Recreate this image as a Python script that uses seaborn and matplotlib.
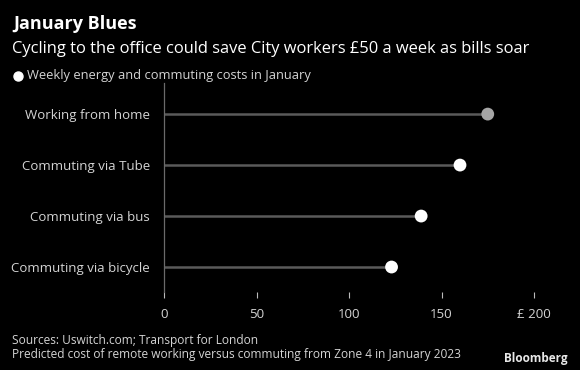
import matplotlib
matplotlib.use("Agg")
import matplotlib.pyplot as plt
import pandas as pd
import seaborn as sns
from matplotlib.lines import Line2D

categories = ["Working from home", "Commuting via Tube", "Commuting via bus", "Commuting via bicycle"]
costs = [175, 160, 139, 123]
dot_colors = ["#a6a6a6", "#ffffff", "#ffffff", "#ffffff"]
x_ticks = [0, 50, 100, 150, 200]
x_tick_labels = ["0", "50", "100", "150", "£ 200"]


def main():
    sns.set_style("dark")
    plt.rcParams["font.family"] = ["Open Sans", "DejaVu Sans"]

    df = pd.DataFrame({"category": categories, "cost": costs})
    df["pos"] = range(len(df))

    fig = plt.figure(figsize=(5.8, 3.7), dpi=100, facecolor="black")
    ax = fig.add_axes([164 / 580, 1 - 292 / 370, (534 - 164) / 580, 209 / 370])
    ax.set_facecolor("black")

    # stems
    ax.hlines(df["pos"], 0, df["cost"], color="#5a5a5a", linewidth=1.8, zorder=1)
    sns.scatterplot(data=df, x="cost", y="pos", hue="category",
                    palette=dict(zip(categories, dot_colors)), s=85,
                    edgecolor="none", legend=False, ax=ax, zorder=3)

    ax.set_xlim(0, 200)
    ax.set_ylim(3.49, -0.61)
    ax.set_yticks(df["pos"])
    ax.set_yticklabels(categories)
    ax.set_xticks(x_ticks)
    ax.set_xticklabels(x_tick_labels)
    ax.set_xlabel("")
    ax.set_ylabel("")
    ax.grid(False)
    for side in ["top", "right", "bottom"]:
        ax.spines[side].set_visible(False)
    ax.spines["left"].set_color("#6a6a6a")
    ax.spines["left"].set_linewidth(0.9)
    ax.tick_params(axis="y", length=0, pad=10, labelsize=9.5, labelcolor="#d4d4d4")
    ax.tick_params(axis="x", length=4.5, width=0.8, color="#bbbbbb", direction="out",
                   pad=7, labelsize=9.5, labelcolor="#d4d4d4", bottom=True)

    fig.text(13 / 580, 1 - 29 / 370, "January Blues", color="white", fontsize=13,
             fontweight="bold", va="baseline")
    fig.text(12 / 580, 1 - 53 / 370,
             "Cycling to the office could save City workers £50 a week as bills soar",
             color="white", fontsize=11.9, va="baseline")
    # legend key
    fig.add_artist(Line2D([18 / 580], [1 - 76 / 370], marker="o", markersize=6.5,
                          color="white", linestyle="none", transform=fig.transFigure))
    fig.text(27 / 580, 1 - 76 / 370, "Weekly energy and commuting costs in January",
             color="#d4d4d4", fontsize=9.3, va="center")

    fig.text(12 / 580, 1 - 344 / 370, "Sources: Uswitch.com; Transport for London",
             color="#d4d4d4", fontsize=8.6, va="baseline")
    fig.text(12 / 580, 1 - 358 / 370,
             "Predicted cost of remote working versus commuting from Zone 4 in January 2023",
             color="#d4d4d4", fontsize=8.6, va="baseline")
    fig.text(568 / 580, 1 - 362 / 370, "Bloomberg", color="#e8e8e8", fontsize=8.5,
             fontweight="bold", ha="right", va="baseline")

    fig.savefig("out.png", dpi=100, facecolor="black")
    plt.close(fig)


if __name__ == "__main__":
    main()
